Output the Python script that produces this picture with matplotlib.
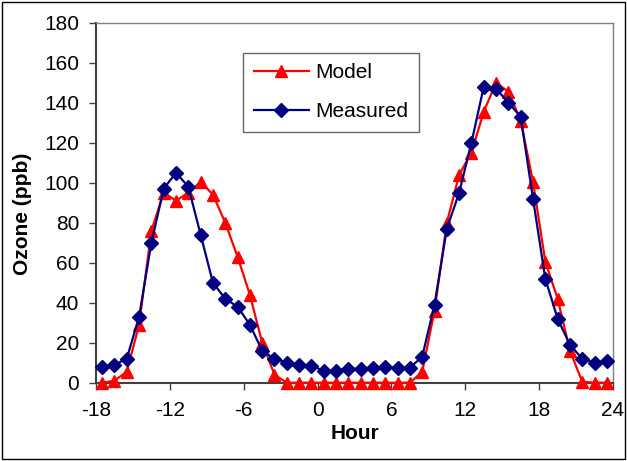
"""Model vs measured ozone over a day and a half."""

import matplotlib

matplotlib.use("Agg")
import matplotlib.pyplot as plt
from matplotlib.patches import Rectangle

plt.rcParams["font.family"] = ["Liberation Sans", "DejaVu Sans"]

# Hour of each sample (half-hour centres, -17.5 .. 23.5).
hours = [h - 17.5 for h in range(42)]

model = [0, 1, 5.5, 29, 76, 95, 91, 95, 100.5, 94, 80, 63, 44, 20, 4, 0,
         0, 0, 0, 0, 0, 0, 0, 0, 0, 0, 5.5, 36, 80, 104, 115, 135.5,
         150, 145.5, 131, 100.5, 60.5, 42, 16, 0.5, 0, 0]

measured = [8, 9, 12, 33, 70, 97, 105, 98, 74, 50, 42, 38, 29, 16, 12, 10,
            9, 8.5, 6, 6, 7, 7, 7.5, 8, 7.5, 7.5, 13, 39, 77, 95, 120, 148,
            147, 140, 133, 92, 52, 32, 19, 12, 10, 11]

x_ticks = [-18, -12, -6, 0, 6, 12, 18, 24]
y_ticks = list(range(0, 181, 20))

fig = plt.figure(figsize=(6.27, 4.61), dpi=100)
ax = fig.add_axes([0.1531, 0.1698, 0.8246, 0.781])

ax.plot(hours, model, color="#FF0000", lw=1.6, marker="^", ms=9,
        label="Model", clip_on=False, zorder=3)
ax.plot(hours, measured, color="#000080", lw=1.6, marker="D", ms=7.5,
        label="Measured", clip_on=False, zorder=4)

ax.set_xlim(-18, 24)
ax.set_ylim(0, 180)
ax.set_xticks(x_ticks)
ax.set_xticklabels([str(t) for t in x_ticks])
ax.set_yticks(y_ticks)
ax.tick_params(direction="out", length=5, width=1, color="#404040",
               labelsize=15)
ax.tick_params(axis="x", pad=8)
ax.tick_params(axis="y", pad=7)
for side in ("left", "bottom"):
    ax.spines[side].set_color("#404040")
    ax.spines[side].set_linewidth(1.5)
for side in ("top", "right"):
    ax.spines[side].set_color("#808080")
    ax.spines[side].set_linewidth(1)

ax.set_xlabel("Hour", fontsize=15, fontweight="bold", labelpad=3)
ax.set_ylabel("Ozone (ppb)", fontsize=15, fontweight="bold")
ax.yaxis.set_label_coords(-0.124, 0.47)

leg = ax.legend(loc="upper left", bbox_to_anchor=(0.284, 0.917),
                borderaxespad=0, fontsize=15, fancybox=False,
                handlelength=2.64, labelspacing=0.95, borderpad=0.52,
                handletextpad=0.3)
leg.get_frame().set_edgecolor("#404040")
leg.get_frame().set_linewidth(1)

fig.patches.append(Rectangle((0.003, 0.004), 0.994, 0.992,
                             transform=fig.transFigure, fill=False,
                             edgecolor="black", lw=1))

fig.savefig("out.png", dpi=100)
plt.close(fig)
